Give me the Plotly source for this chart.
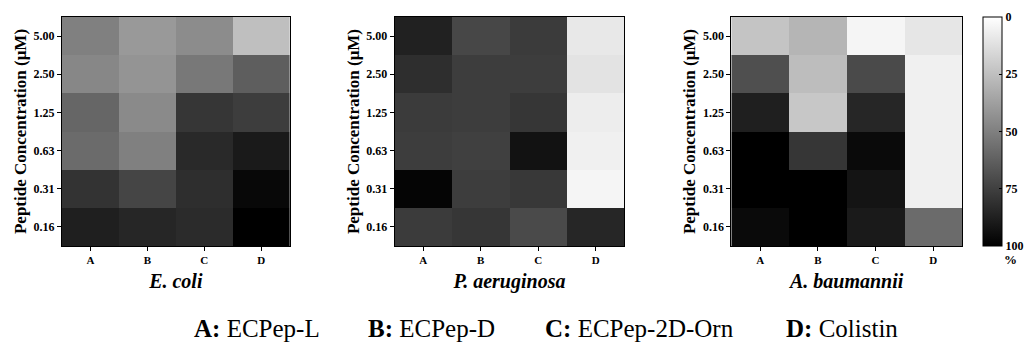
import plotly.graph_objects as go

peptides = ["A", "B", "C", "D"]
concentrations = ["0.16", "0.31", "0.63", "1.25", "2.50", "5.00"]  # bottom -> top

# % values (0 = white, 100 = black), rows follow `concentrations`
ecoli = [
    [88, 85, 83, 100],
    [80, 73, 82, 97],
    [58, 50, 84, 90],
    [60, 46, 79, 76],
    [47, 42, 53, 63],
    [50, 40, 45, 25],
]
paeruginosa = [
    [77, 79, 71, 85],
    [98, 76, 78, 4],
    [76, 75, 93, 6],
    [77, 76, 79, 7],
    [82, 76, 76, 11],
    [87, 72, 77, 9],
]
abaumannii = [
    [96, 100, 90, 58],
    [100, 100, 92, 6],
    [100, 79, 96, 6],
    [88, 22, 85, 6],
    [69, 26, 71, 6],
    [23, 29, 4, 10],
]
species = ["E. coli", "P. aeruginosa", "A. baumannii"]
cbar_ticks = [0, 25, 50, 75, 100]
legend_labels = [("A:", "ECPep-L"), ("B:", "ECPep-D"), ("C:", "ECPep-2D-Orn"), ("D:", "Colistin")]

W, H = 1026, 342
FONT = "Liberation Serif, Times New Roman, serif"
panels = [ecoli, paeruginosa, abaumannii]
x_px = [(62, 290), (395, 625), (732, 963)]
y_top, y_bot = 17, 246
ydom = [1 - y_bot / H, 1 - y_top / H]

fig = go.Figure()
for i, (vals, name) in enumerate(zip(panels, species)):
    ax = "" if i == 0 else str(i + 1)
    fig.add_trace(go.Heatmap(
        x=peptides, y=concentrations,
        z=[[-v for v in row] for row in vals],
        coloraxis="coloraxis",
        xaxis="x" + ax, yaxis="y" + ax,
        hovertemplate="%{x}, %{y}: " + "%{customdata}%<extra></extra>",
        customdata=vals,
    ))
    axis_common = dict(
        showline=True, mirror=True, linecolor="black", linewidth=1,
        ticks="outside", ticklen=4, tickwidth=1, tickcolor="black",
        showgrid=False, zeroline=False, type="category",
    )
    fig.layout["xaxis" + ax] = dict(
        axis_common, domain=[x_px[i][0] / W, x_px[i][1] / W], anchor="y" + ax,
        tickfont=dict(family=FONT, size=11, color="black", weight="bold"),
        title=dict(text="<b><i>%s</i></b>" % name, standoff=8,
                   font=dict(family=FONT, size=20, color="black")),
        categoryorder="array", categoryarray=peptides,
    )
    fig.layout["yaxis" + ax] = dict(
        axis_common, domain=ydom, anchor="x" + ax,
        tickfont=dict(family=FONT, size=12, color="black", weight="bold"),
        title=dict(text="<b>Peptide Concentration (\u03bcM)</b>", standoff=2,
                   font=dict(family=FONT, size=17, color="black")),
        categoryorder="array", categoryarray=concentrations,
    )

fig.update_layout(
    width=W, height=H,
    margin=dict(l=0, r=0, t=0, b=0),
    paper_bgcolor="white", plot_bgcolor="white",
    coloraxis=dict(
        colorscale=[[0, "#000000"], [1, "#ffffff"]], cmin=-100, cmax=0,
        colorbar=dict(
            x=983 / W, xanchor="left", xpad=0, ypad=0,
            y=1 - y_top / H, yanchor="top",
            thicknessmode="pixels", thickness=19,
            lenmode="pixels", len=y_bot - y_top,
            outlinecolor="black", outlinewidth=1,
            tickvals=[-t for t in cbar_ticks],
            ticktext=[str(t) for t in cbar_ticks],
            ticks="inside", ticklen=3, tickcolor="black",
            tickfont=dict(family=FONT, size=12, color="black", weight="bold"),
        ),
    ),
    showlegend=False,
)

fig.add_annotation(text="<b>%</b>", x=1003 / W, y=1 - 259 / H, xref="paper", yref="paper",
                   xanchor="left", yanchor="middle", showarrow=False,
                   font=dict(family=FONT, size=13, color="black"))

legend_x = [192, 366, 544, 785]
for (k, lab), xp in zip(legend_labels, legend_x):
    fig.add_annotation(text="<b>%s</b> %s" % (k, lab), x=xp / W, y=1 - 328 / H,
                       xref="paper", yref="paper", xanchor="left", yanchor="middle",
                       showarrow=False, font=dict(family=FONT, size=25, color="black"))

fig.write_html("out.html")
